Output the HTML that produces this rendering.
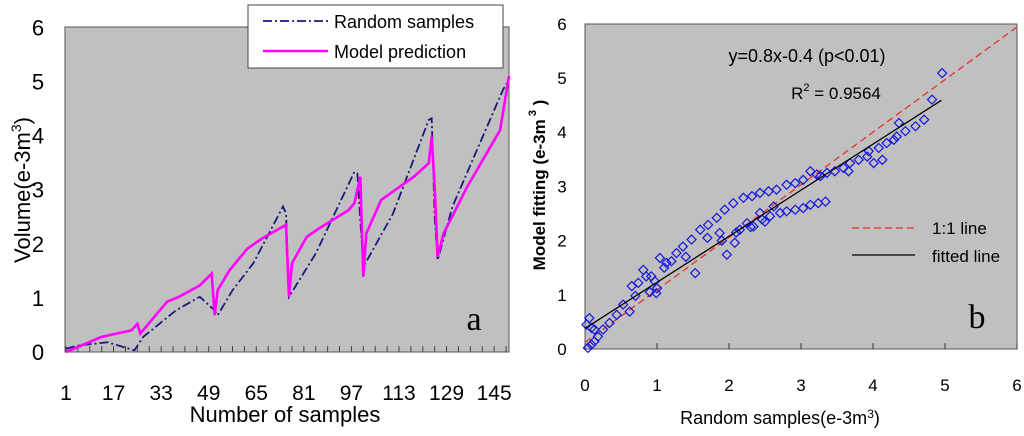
<!DOCTYPE html>
<html><head><meta charset="utf-8"><style>
html,body{margin:0;padding:0;background:#fff;width:1024px;height:436px;overflow:hidden}
svg{display:block;font-family:"Liberation Sans",sans-serif}
</style></head><body>
<svg id="c" width="1024" height="436"></svg>
<script>
const sampleIdxRandom=[1,5,15,24,27,38,46,51,52,57,64,74,75,76,85,98,99,101,111,123,124,125,126,131,148,150];
const randomVals=[0.06,0.12,0.18,0.03,0.28,0.77,1.02,0.77,0.68,1.14,1.64,2.69,2.56,1.02,1.82,3.33,3.3,1.57,2.56,4.29,4.32,2.5,1.7,2.69,4.85,5.03];
const sampleIdxModel=[1,13,23,25,26,35,39,46,50,51,52,56,62,67,75,76,77,82,86,96,98,100,101,102,107,118,123,124,125,126,128,136,147,150];
const modelVals=[0,0.28,0.40,0.52,0.34,0.93,1.02,1.23,1.45,0.68,1.14,1.51,1.91,2.10,2.35,1.02,1.64,2.13,2.28,2.62,2.75,3.24,1.39,2.19,2.81,3.24,3.49,3.98,3.06,1.76,2.19,3.06,4.1,5.1];
const xTickLabelsA=[1,17,33,49,65,81,97,113,129,145];
const yTicks=[0,1,2,3,4,5,6];
const scatterX=[0.02,0.06,0.09,0.13,0.04,0.09,0.13,0.18,0.25,0.34,0.44,0.53,0.62,0.65,0.74,0.81,0.85,0.92,0.97,0.99,1.04,1.13,1.27,1.36,1.48,1.53,1.6,1.71,1.83,1.94,2.06,1.97,2.08,2.2,2.32,2.43,2.55,2.66,2.8,2.92,3.03,3.13,2.34,2.46,2.57,2.71,2.8,2.92,3.03,3.13,3.24,3.34,1.87,2.15,2.25,2.43,2.62,3.22,3.36,3.47,3.59,3.68,3.8,3.92,4.01,4.13,3.94,4.08,4.19,4.29,4.33,4.45,4.36,4.59,4.71,4.82,4.96,3.66,3.27,0.7,0.9,1.0,1.1,1.2,1.4,1.7,1.9,2.1,2.3,2.5];
const scatterY=[0.45,0.57,0.39,0.36,0.02,0.08,0.14,0.23,0.36,0.48,0.63,0.82,0.69,1.16,1.22,1.46,1.34,1.34,1.25,1.03,1.68,1.59,1.77,1.89,2.02,1.40,2.2,2.29,2.42,2.57,2.69,1.74,1.96,2.79,2.82,2.88,2.91,2.94,3.03,3.06,3.12,3.28,2.26,2.39,2.45,2.51,2.54,2.57,2.6,2.66,2.69,2.72,2.14,2.2,2.32,2.51,2.63,3.22,3.25,3.28,3.34,3.43,3.49,3.55,3.43,3.49,3.65,3.71,3.8,3.86,3.92,4.02,4.17,4.11,4.23,4.6,5.09,3.28,3.19,0.98,1.05,1.12,1.5,1.62,1.7,2.05,2.0,2.15,2.25,2.35];
const xTicksB=[0,1,2,3,4,5,6];
const fitSlope=0.85, fitIntercept=0.38;
const oneSlope=0.97, oneIntercept=0.12;

const S=document.getElementById('c');
const NS='http://www.w3.org/2000/svg';
function mk(tag,attrs,parent,text){const e=document.createElementNS(NS,tag);for(const k in attrs)e.setAttribute(k,attrs[k]);if(text!==undefined)e.textContent=text;(parent||S).appendChild(e);return e;}

// Chart A
const ax=s=>66+(s-1)*(509-66)/149;
const ay=v=>352-v*54.1;
const gA=mk('g',{});


let r=mk('rect',{x:65,y:27,width:444,height:325,fill:'#c0c0c0',stroke:'#555','stroke-width':1},gA);


for(let s=1;s<=150;s+=4){let t=mk('line',{x1:ax(s),x2:ax(s),y1:352,y2:346,stroke:'#444','stroke-width':1},gA);}
yTicks.forEach(v=>{let t=mk('text',{x:38,y:ay(v)+8,'font-size':22,'text-anchor':'middle',fill:'#000'},gA,String(v));});
xTickLabelsA.forEach(v=>{let t=mk('text',{x:ax(v),y:400,'font-size':21,'text-anchor':'middle',fill:'#000'},gA,String(v));});
let pr=mk('polyline',{points:sampleIdxRandom.map((s,i)=>ax(s)+','+ay(randomVals[i])).join(' '),fill:'none',stroke:'#1a1a7a','stroke-width':1.8,'stroke-dasharray':'9,3,2,3'},gA);


let pm=mk('polyline',{points:sampleIdxModel.map((s,i)=>ax(s)+','+ay(modelVals[i])).join(' '),fill:'none',stroke:'#ff00ff','stroke-width':2.6},gA);


let lg=mk('g',{},gA);


mk('rect',{x:248,y:5,width:255,height:63,fill:'#fff',stroke:'#444','stroke-width':1},lg);
mk('line',{x1:263,x2:328,y1:21,y2:21,stroke:'#1a1a7a','stroke-width':1.8,'stroke-dasharray':'9,3,2,3'},lg);
let t1=mk('text',{x:334,y:28,'font-size':18,fill:'#000'},lg,'Random samples');


mk('line',{x1:263,x2:328,y1:51,y2:51,stroke:'#ff00ff','stroke-width':2.6},lg);
let t2=mk('text',{x:334,y:58,'font-size':18,fill:'#000'},lg,'Model prediction');


let la=mk('text',{x:474,y:330,'font-size':34,'font-family':'Liberation Serif, serif','text-anchor':'middle'},gA,'a');


let yt=mk('text',{x:0,y:0,'font-size':22,'text-anchor':'middle',transform:'translate(30,190) rotate(-90)'},gA);


yt.innerHTML='Volume(e-3m<tspan dy="-9" font-size="14">3</tspan><tspan dy="9">)</tspan>';
let xt=mk('text',{x:285,y:422,'font-size':22,'text-anchor':'middle'},gA,'Number of samples');



// Chart B
const bx=v=>585+v*72;
const by=v=>349-v*54.2;
const gB=mk('g',{});


let rb=mk('rect',{x:585,y:24,width:432,height:325,fill:'#c0c0c0',stroke:'#555','stroke-width':1},gB);


xTicksB.forEach(v=>{mk('line',{x1:bx(v),x2:bx(v),y1:349,y2:343,stroke:'#333'},gB);let t=mk('text',{x:bx(v),y:391,'font-size':17,'text-anchor':'middle'},gB,String(v));});
yTicks.forEach(v=>{let t=mk('text',{x:562,y:by(v)+6,'font-size':17,'text-anchor':'middle'},gB,String(v));});
let ol=mk('line',{x1:bx(0),y1:by(oneIntercept),x2:bx(6),y2:by(oneIntercept+oneSlope*6),stroke:'#e8302a','stroke-width':1.3,'stroke-dasharray':'7,4'},gB);


scatterX.forEach((x,i)=>{const cx=bx(x),cy=by(scatterY[i]);let p=mk('polygon',{points:`${cx},${cy-4.5} ${cx+4.5},${cy} ${cx},${cy+4.5} ${cx-4.5},${cy}`,fill:'none',stroke:'#1515e0','stroke-width':1.2},gB);});
let fl=mk('line',{x1:bx(0),y1:by(fitIntercept),x2:bx(4.95),y2:by(fitIntercept+fitSlope*4.95),stroke:'#000','stroke-width':1.3},gB);


let eq=mk('text',{x:807,y:62,'font-size':18,'text-anchor':'middle'},gB,'y=0.8x-0.4 (p<0.01)');


let r2=mk('text',{x:836,y:99,'font-size':17,'text-anchor':'middle'},gB);


r2.innerHTML='R<tspan dy="-8" font-size="11">2</tspan><tspan dy="8"> = 0.9564</tspan>';
mk('line',{x1:852,x2:915,y1:228,y2:228,stroke:'#e8302a','stroke-width':1.3,'stroke-dasharray':'7,4'},gB);
let l1=mk('text',{x:932,y:234,'font-size':17},gB,'1:1 line');


mk('line',{x1:852,x2:915,y1:255,y2:255,stroke:'#000','stroke-width':1.3},gB);
let l2=mk('text',{x:932,y:262,'font-size':17},gB,'fitted line');


let lb=mk('text',{x:977,y:328,'font-size':34,'font-family':'Liberation Serif, serif','text-anchor':'middle'},gB,'b');


let ytb=mk('text',{x:0,y:0,'font-size':17,'font-weight':'bold','text-anchor':'middle',transform:'translate(545,185) rotate(-90)'},gB);


ytb.innerHTML='Model fitting  (e-3m<tspan dy="-9" font-size="11"> 3</tspan><tspan dy="9">  )</tspan>';
let xtb=mk('text',{x:780,y:424,'font-size':18,'text-anchor':'middle'},gB);


xtb.innerHTML='Random samples(e-3m<tspan dy="-6" font-size="12">3</tspan><tspan dy="6">)</tspan>';
</script>
</body></html>
